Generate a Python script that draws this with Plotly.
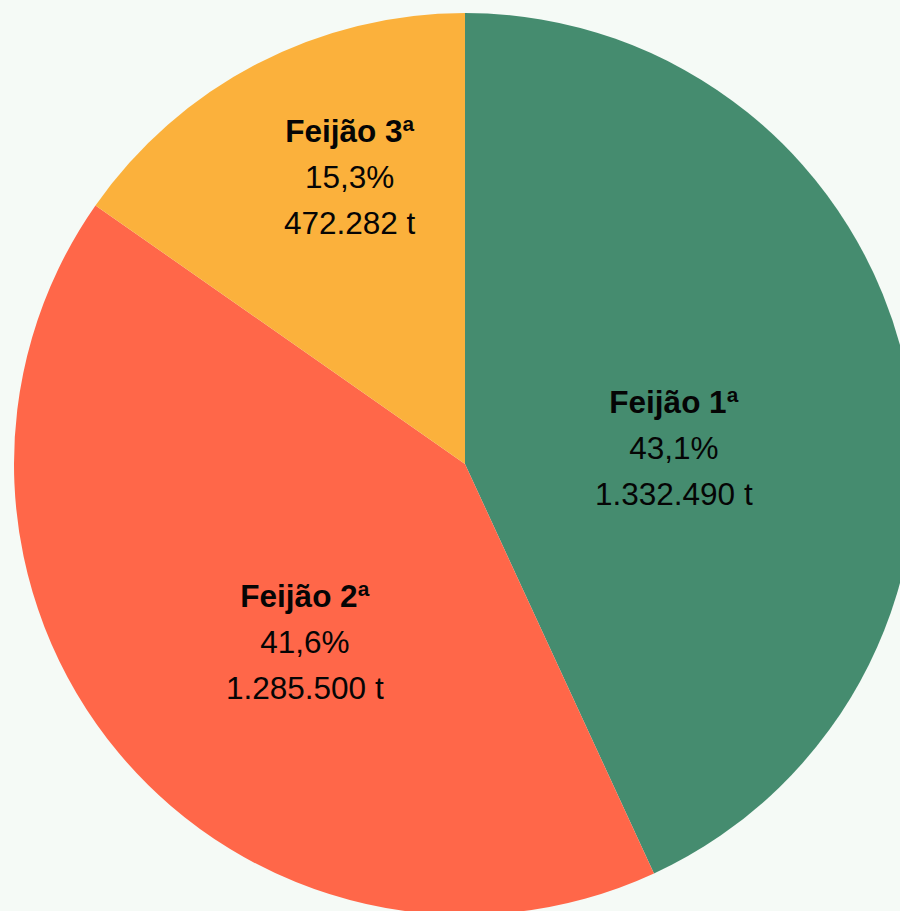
import plotly.graph_objects as go

# Produção de feijão por safra (toneladas)
safras = ['Feijão 1ª', 'Feijão 2ª', 'Feijão 3ª']
producao = [1332490, 1285500, 472282]
cores = ['#458C6F', '#FF6749', '#FBB13C']

# where each label block sits (paper coords)
label_x = [0.7317, 0.3226, 0.3725]
label_y = [0.5177, 0.3027, 0.8182]

BG = '#F5FAF6'
FONT = 'Liberation Sans, Arial, sans-serif'


def fmt_br(n):
    # 1.332.490 style
    return f'{n:,}'.replace(',', '.')


fig = go.Figure(go.Pie(
    labels=safras,
    values=producao,
    sort=False,
    direction='clockwise',
    rotation=0,
    marker=dict(colors=cores, line=dict(width=0)),
    textinfo='none',
    hoverinfo='skip',
    showlegend=False,
))

total = sum(producao)
for nome, v, x, y in zip(safras, producao, label_x, label_y):
    pct = f'{100 * v / total:.1f}'.replace('.', ',') + '%'
    # base font sets the line spacing (~46px), spans set the glyph size
    txt = (f'<span style="font-size:31.5px"><b>{nome}</b></span><br>'
           f'<span style="font-size:31.5px">{pct}</span><br>'
           f'<span style="font-size:31.5px">{fmt_br(v)} t</span>')
    fig.add_annotation(
        x=x, y=y, xref='paper', yref='paper',
        text=txt, showarrow=False,
        xanchor='center', yanchor='middle', align='center',
        font=dict(family=FONT, size=35.5, color='#050505'),
    )

# the pie is a bit larger than the window, so it is cut on the right and bottom
fig.update_layout(
    width=916,
    height=915,
    margin=dict(l=14, r=0, t=13, b=0, pad=0),
    paper_bgcolor=BG,
    plot_bgcolor=BG,
)

fig.write_html(
    "out.html",
    config={'displayModeBar': False},
    post_script="document.body.style.margin='0';document.body.style.overflow='hidden';"
                "document.documentElement.style.overflow='hidden';document.body.style.background='" + BG + "';",
)
